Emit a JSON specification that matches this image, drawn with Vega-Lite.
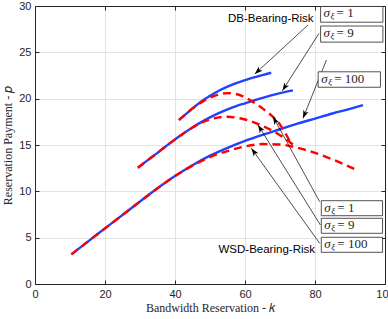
{
  "$schema": "https://vega.github.io/schema/vega-lite/v6.json",
  "autosize": {"type": "none"},
  "padding": {"left": 35, "top": 6, "right": 3, "bottom": 35},
  "width": 350,
  "height": 278,
  "background": "white",
  "config": {
    "view": {"stroke": null},
    "axis": {
      "labelFont": "Liberation Sans",
      "labelFontSize": 11,
      "labelColor": "#262626",
      "titleFont": "Liberation Serif",
      "titleFontSize": 12,
      "titleFontWeight": "normal",
      "titleColor": "#262626",
      "domainColor": "#262626",
      "tickColor": "#262626",
      "gridColor": "#e3e3e3",
      "gridWidth": 1
    }
  },
  "datasets": {
    "curves": [
      {"model": "DB", "sigma": "1", "k": 41.1, "p": 17.7},
      {"model": "DB", "sigma": "1", "k": 43, "p": 18.3},
      {"model": "DB", "sigma": "1", "k": 45, "p": 18.95},
      {"model": "DB", "sigma": "1", "k": 47.5, "p": 19.7},
      {"model": "DB", "sigma": "1", "k": 50, "p": 20.3},
      {"model": "DB", "sigma": "1", "k": 52.5, "p": 20.85},
      {"model": "DB", "sigma": "1", "k": 55, "p": 21.3},
      {"model": "DB", "sigma": "1", "k": 57.5, "p": 21.68},
      {"model": "DB", "sigma": "1", "k": 60, "p": 22.0},
      {"model": "DB", "sigma": "1", "k": 62.5, "p": 22.3},
      {"model": "DB", "sigma": "1", "k": 65, "p": 22.55},
      {"model": "DB", "sigma": "1", "k": 67.5, "p": 22.8},
      {"model": "DB", "sigma": "9", "k": 29.4, "p": 12.55},
      {"model": "DB", "sigma": "9", "k": 32.5, "p": 13.45},
      {"model": "DB", "sigma": "9", "k": 35, "p": 14.15},
      {"model": "DB", "sigma": "9", "k": 37.5, "p": 14.9},
      {"model": "DB", "sigma": "9", "k": 40, "p": 15.6},
      {"model": "DB", "sigma": "9", "k": 42.5, "p": 16.28},
      {"model": "DB", "sigma": "9", "k": 45, "p": 16.9},
      {"model": "DB", "sigma": "9", "k": 47.5, "p": 17.47},
      {"model": "DB", "sigma": "9", "k": 50, "p": 17.98},
      {"model": "DB", "sigma": "9", "k": 52.5, "p": 18.43},
      {"model": "DB", "sigma": "9", "k": 55, "p": 18.84},
      {"model": "DB", "sigma": "9", "k": 57.5, "p": 19.2},
      {"model": "DB", "sigma": "9", "k": 60, "p": 19.5},
      {"model": "DB", "sigma": "9", "k": 62.5, "p": 19.8},
      {"model": "DB", "sigma": "9", "k": 65, "p": 20.08},
      {"model": "DB", "sigma": "9", "k": 67.5, "p": 20.35},
      {"model": "DB", "sigma": "9", "k": 70, "p": 20.6},
      {"model": "DB", "sigma": "9", "k": 73.7, "p": 20.9},
      {"model": "DB", "sigma": "100", "k": 10.4, "p": 3.2},
      {"model": "DB", "sigma": "100", "k": 15, "p": 4.55},
      {"model": "DB", "sigma": "100", "k": 20, "p": 6.0},
      {"model": "DB", "sigma": "100", "k": 25, "p": 7.45},
      {"model": "DB", "sigma": "100", "k": 30, "p": 8.9},
      {"model": "DB", "sigma": "100", "k": 35, "p": 10.33},
      {"model": "DB", "sigma": "100", "k": 40, "p": 11.65},
      {"model": "DB", "sigma": "100", "k": 45, "p": 12.82},
      {"model": "DB", "sigma": "100", "k": 50, "p": 13.85},
      {"model": "DB", "sigma": "100", "k": 55, "p": 14.7},
      {"model": "DB", "sigma": "100", "k": 60, "p": 15.45},
      {"model": "DB", "sigma": "100", "k": 65, "p": 16.1},
      {"model": "DB", "sigma": "100", "k": 70, "p": 16.7},
      {"model": "DB", "sigma": "100", "k": 75, "p": 17.3},
      {"model": "DB", "sigma": "100", "k": 80, "p": 17.85},
      {"model": "DB", "sigma": "100", "k": 85, "p": 18.4},
      {"model": "DB", "sigma": "100", "k": 90, "p": 18.9},
      {"model": "DB", "sigma": "100", "k": 93.7, "p": 19.3},
      {"model": "WSD", "sigma": "1", "k": 41.1, "p": 17.7},
      {"model": "WSD", "sigma": "1", "k": 43, "p": 18.3},
      {"model": "WSD", "sigma": "1", "k": 45, "p": 18.95},
      {"model": "WSD", "sigma": "1", "k": 47.5, "p": 19.6},
      {"model": "WSD", "sigma": "1", "k": 50, "p": 20.1},
      {"model": "WSD", "sigma": "1", "k": 52.5, "p": 20.45},
      {"model": "WSD", "sigma": "1", "k": 55, "p": 20.6},
      {"model": "WSD", "sigma": "1", "k": 57.5, "p": 20.5},
      {"model": "WSD", "sigma": "1", "k": 60, "p": 20.15},
      {"model": "WSD", "sigma": "1", "k": 62.5, "p": 19.6},
      {"model": "WSD", "sigma": "1", "k": 65, "p": 18.95},
      {"model": "WSD", "sigma": "1", "k": 67.5, "p": 18.2},
      {"model": "WSD", "sigma": "1", "k": 70, "p": 17.2},
      {"model": "WSD", "sigma": "1", "k": 72.8, "p": 15.4},
      {"model": "WSD", "sigma": "9", "k": 29.4, "p": 12.55},
      {"model": "WSD", "sigma": "9", "k": 32.5, "p": 13.45},
      {"model": "WSD", "sigma": "9", "k": 35, "p": 14.15},
      {"model": "WSD", "sigma": "9", "k": 37.5, "p": 14.9},
      {"model": "WSD", "sigma": "9", "k": 40, "p": 15.6},
      {"model": "WSD", "sigma": "9", "k": 42.5, "p": 16.28},
      {"model": "WSD", "sigma": "9", "k": 45, "p": 16.88},
      {"model": "WSD", "sigma": "9", "k": 47.5, "p": 17.4},
      {"model": "WSD", "sigma": "9", "k": 50, "p": 17.75},
      {"model": "WSD", "sigma": "9", "k": 52.5, "p": 17.98},
      {"model": "WSD", "sigma": "9", "k": 55, "p": 18.05},
      {"model": "WSD", "sigma": "9", "k": 57.5, "p": 17.95},
      {"model": "WSD", "sigma": "9", "k": 60, "p": 17.75},
      {"model": "WSD", "sigma": "9", "k": 62.5, "p": 17.45},
      {"model": "WSD", "sigma": "9", "k": 65, "p": 17.05},
      {"model": "WSD", "sigma": "9", "k": 67.5, "p": 16.6},
      {"model": "WSD", "sigma": "9", "k": 70, "p": 16.05},
      {"model": "WSD", "sigma": "9", "k": 72.5, "p": 15.4},
      {"model": "WSD", "sigma": "9", "k": 74, "p": 14.95},
      {"model": "WSD", "sigma": "100", "k": 10.4, "p": 3.2},
      {"model": "WSD", "sigma": "100", "k": 15, "p": 4.55},
      {"model": "WSD", "sigma": "100", "k": 20, "p": 6.0},
      {"model": "WSD", "sigma": "100", "k": 25, "p": 7.45},
      {"model": "WSD", "sigma": "100", "k": 30, "p": 8.9},
      {"model": "WSD", "sigma": "100", "k": 35, "p": 10.33},
      {"model": "WSD", "sigma": "100", "k": 40, "p": 11.65},
      {"model": "WSD", "sigma": "100", "k": 45, "p": 12.78},
      {"model": "WSD", "sigma": "100", "k": 50, "p": 13.7},
      {"model": "WSD", "sigma": "100", "k": 55, "p": 14.35},
      {"model": "WSD", "sigma": "100", "k": 60, "p": 14.85},
      {"model": "WSD", "sigma": "100", "k": 65, "p": 15.1},
      {"model": "WSD", "sigma": "100", "k": 70, "p": 15.05},
      {"model": "WSD", "sigma": "100", "k": 75, "p": 14.7},
      {"model": "WSD", "sigma": "100", "k": 80, "p": 14.15},
      {"model": "WSD", "sigma": "100", "k": 85, "p": 13.45},
      {"model": "WSD", "sigma": "100", "k": 89, "p": 12.8},
      {"model": "WSD", "sigma": "100", "k": 91.3, "p": 12.4}
    ],
    "arrows": [
      {"k": 78.0, "p": 27.95, "k2": 62.8, "p2": 22.66, "angle": 227.4},
      {"k": 81.14, "p": 27.05, "k2": 70.69, "p2": 20.86, "angle": 212.5},
      {"k": 83.26, "p": 24.17, "k2": 76.57, "p2": 17.88, "angle": 201.9},
      {"k": 81.34, "p": 8.88, "k2": 68.0, "p2": 18.05, "angle": 331.2},
      {"k": 81.54, "p": 6.37, "k2": 63.71, "p2": 17.16, "angle": 328.0},
      {"k": 81.34, "p": 4.39, "k2": 61.83, "p2": 14.64, "angle": 324.3}
    ],
    "boxes": [
      {"k": 81.6, "k2": 99.4, "p": 29.95, "p2": 28.25, "val": "= 1"},
      {"k": 81.6, "k2": 99.4, "p": 27.84, "p2": 26.1, "val": "= 9"},
      {"k": 80.9, "k2": 98.7, "p": 22.9, "p2": 21.23, "val": "= 100"},
      {"k": 81.8, "k2": 99.3, "p": 8.99, "p2": 7.37, "val": "= 1"},
      {"k": 81.8, "k2": 99.3, "p": 7.09, "p2": 5.47, "val": "= 9"},
      {"k": 81.8, "k2": 99.3, "p": 5.04, "p2": 3.42, "val": "= 100"}
    ],
    "labels": [
      {"k": 79.6, "p": 28.55, "t": "DB-Bearing-Risk"},
      {"k": 80.0, "p": 3.7, "t": "WSD-Bearing-Risk"}
    ]
  },
  "resolve": {"axis": {"x": "independent", "y": "independent"}},
  "layer": [
    {
      "data": {"name": "curves"},
      "transform": [{"filter": "datum.model === 'DB'"}],
      "mark": {"type": "line", "color": "#1f43ff", "strokeWidth": 2.4, "interpolate": "monotone", "clip": true},
      "encoding": {
        "x": {"field": "k", "type": "quantitative", "scale": {"domain": [0, 100], "nice": false},
          "axis": {"orient": "bottom", "values": [0, 20, 40, 60, 80, 100], "grid": true, "tickSize": -4, "labelPadding": 8, "labelFlush": false, "labelOverlap": false, "title": "Bandwidth Reservation - 𝑘", "titlePadding": 3}},
        "y": {"field": "p", "type": "quantitative", "scale": {"domain": [0, 30], "nice": false},
          "axis": {"orient": "left", "values": [0, 5, 10, 15, 20, 25, 30], "grid": true, "tickSize": -4, "labelPadding": 8, "labelFlush": false, "labelOverlap": false, "title": "Reservation Payment - 𝑝", "titlePadding": 4}},
        "detail": {"field": "sigma"}
      }
    },
    {
      "data": {"name": "curves"},
      "transform": [{"filter": "datum.model === 'WSD'"}],
      "mark": {"type": "line", "color": "#ff0000", "strokeWidth": 2.4, "strokeDash": [8, 5], "interpolate": "monotone", "clip": true},
      "encoding": {
        "x": {"field": "k", "type": "quantitative",
          "axis": {"orient": "top", "values": [0, 20, 40, 60, 80, 100], "grid": false, "labels": false, "tickSize": -4, "title": null}},
        "y": {"field": "p", "type": "quantitative",
          "axis": {"orient": "right", "values": [0, 5, 10, 15, 20, 25, 30], "grid": false, "labels": false, "tickSize": -4, "title": null}},
        "detail": {"field": "sigma"}
      }
    },
    {
      "data": {"name": "arrows"},
      "mark": {"type": "rule", "color": "#000000", "strokeWidth": 0.7},
      "encoding": {
        "x": {"field": "k", "type": "quantitative", "axis": null},
        "y": {"field": "p", "type": "quantitative", "axis": null},
        "x2": {"field": "k2"},
        "y2": {"field": "p2"}
      }
    },
    {
      "data": {"name": "arrows"},
      "mark": {"type": "point", "shape": "M0,0L-0.7,2L0,1.5L0.7,2Z", "filled": true, "color": "#000000", "opacity": 1, "size": 64, "strokeWidth": 0},
      "encoding": {
        "x": {"field": "k2", "type": "quantitative", "axis": null},
        "y": {"field": "p2", "type": "quantitative", "axis": null},
        "angle": {"field": "angle", "type": "quantitative", "scale": null}
      }
    },
    {
      "data": {"name": "boxes"},
      "mark": {"type": "rect", "fill": "white", "stroke": "#262626", "strokeWidth": 0.8},
      "encoding": {
        "x": {"field": "k", "type": "quantitative", "axis": null},
        "x2": {"field": "k2"},
        "y": {"field": "p", "type": "quantitative", "axis": null},
        "y2": {"field": "p2"}
      }
    },
    {
      "data": {"name": "boxes"},
      "mark": {"type": "text", "text": "σ", "font": "Liberation Serif", "fontStyle": "italic", "fontSize": 13, "align": "left", "baseline": "middle", "dx": 3, "dy": -1, "color": "#262626"},
      "encoding": {
        "x": {"field": "k", "type": "quantitative", "axis": null},
        "y": {"field": "p", "type": "quantitative", "axis": null},
        "yOffset": {"value": 8}
      }
    },
    {
      "data": {"name": "boxes"},
      "mark": {"type": "text", "text": "ξ", "font": "Liberation Serif", "fontStyle": "italic", "fontSize": 9, "align": "left", "baseline": "middle", "dx": 10, "dy": 2, "color": "#262626"},
      "encoding": {
        "x": {"field": "k", "type": "quantitative", "axis": null},
        "y": {"field": "p", "type": "quantitative", "axis": null},
        "yOffset": {"value": 8}
      }
    },
    {
      "data": {"name": "boxes"},
      "mark": {"type": "text", "font": "Liberation Serif", "fontSize": 13, "align": "left", "baseline": "middle", "dx": 16, "dy": -1, "color": "#262626"},
      "encoding": {
        "x": {"field": "k", "type": "quantitative", "axis": null},
        "y": {"field": "p", "type": "quantitative", "axis": null},
        "yOffset": {"value": 8},
        "text": {"field": "val"}
      }
    },
    {
      "data": {"name": "labels"},
      "mark": {"type": "text", "font": "Liberation Sans", "fontSize": 11.5, "align": "right", "baseline": "middle", "color": "#000000"},
      "encoding": {
        "x": {"field": "k", "type": "quantitative", "axis": null},
        "y": {"field": "p", "type": "quantitative", "axis": null},
        "text": {"field": "t"}
      }
    }
  ]
}
